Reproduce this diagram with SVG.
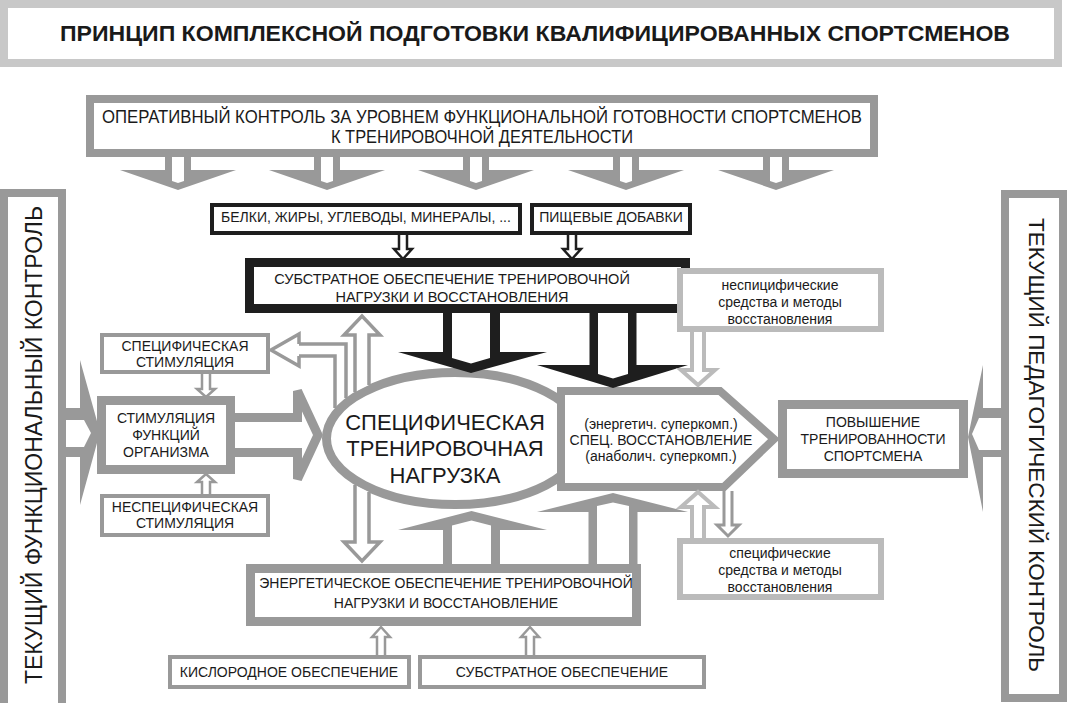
<svg xmlns="http://www.w3.org/2000/svg" width="1068" height="703" viewBox="0 0 1068 703">
<style>
text{font-family:"Liberation Sans",Arial,sans-serif;fill:#1a1a1a;text-anchor:middle}
.t14{font-size:14px}
.t15{font-size:14.5px}
.big{font-size:22px}
.box{fill:#fff}
.g{stroke:#999}
.k{stroke:#1e1e1e}
.lg{stroke:#bbb}
.arr{fill:#fff;stroke-linejoin:miter}
.fg{fill:#999}
.fk{fill:#1e1e1e}
.fw{fill:#fff}
</style>
<rect width="1068" height="703" fill="#fff"/>
<g id="title">
<rect x="4" y="4" width="1054" height="59" class="box" stroke="#c8c8c8" stroke-width="8"/>
<text x="535" y="41" font-size="22" font-weight="bold" textLength="950" lengthAdjust="spacingAndGlyphs">ПРИНЦИП КОМПЛЕКСНОЙ ПОДГОТОВКИ КВАЛИФИЦИРОВАННЫХ СПОРТСМЕНОВ</text>
</g>
<g id="ellipse">
<ellipse cx="455" cy="438.5" rx="128.5" ry="66" class="box g" stroke-width="9"/>
<text class="big" x="445" y="430">СПЕЦИФИЧЕСКАЯ</text>
<text class="big" x="445" y="456">ТРЕНИРОВОЧНАЯ</text>
<text class="big" x="445" y="483">НАГРУЗКА</text>
</g>
<g id="recovery">
<path d="M561,391 H720 L774,439 L724,487 H561 Z" class="box g" stroke-width="8"/>
<text class="t14" x="661" y="429" font-size="13.5">(энергетич. суперкомп.)</text>
<text class="t14" x="661" y="445">СПЕЦ. ВОССТАНОВЛЕНИЕ</text>
<text class="t14" x="661" y="461" font-size="13.5">(анаболич. суперкомп.)</text>
</g>
<g id="connectors">
<g class="fg">
<path d="M165,153 V170 H120 L178,190 L236,170 H191 V153 Z"/>
<path d="M314,153 V170 H269 L327,190 L385,170 H340 V153 Z"/>
<path d="M463,153 V170 H418 L476,190 L534,170 H489 V153 Z"/>
<path d="M613,153 V170 H568 L626,190 L684,170 H639 V153 Z"/>
<path d="M763,153 V170 H718 L776,190 L834,170 H789 V153 Z"/>
</g>
<g class="fw">
<path d="M172,153 V181 L178,183 L184,181 V153 Z"/>
<path d="M321,153 V181 L327,183 L333,181 V153 Z"/>
<path d="M470,153 V181 L476,183 L482,181 V153 Z"/>
<path d="M620,153 V181 L626,183 L632,181 V153 Z"/>
<path d="M770,153 V181 L776,183 L782,181 V153 Z"/>
</g>
<path d="M62,408 H80 V360 L100,432 L80,505 V457 H62 Z" class="fg"/>
<path d="M62,420 H84 L91,433 L84,447 H62 Z" class="fw"/>
<path d="M1006,408 H983 V365 L968,437 L983,512 V457 H1006 Z" class="fg"/>
<path d="M1006,418 H979 L972,434 L979,450 H1006 Z" class="fw"/>
<path d="M235,417.5 H297.5 V391 L318,435 L297.5,479 V452.5 H235" class="arr g" stroke-width="9"/>
<path d="M443,308 V352 H398 L471,373 L547,352 H500 V308 Z" class="fk"/>
<path d="M452,308 V358 L471,363.5 L490,358 V308 Z" class="fw"/>
<path d="M589.5,308 V365 H537 L613,388 L688,365 H636.5 V308 Z" class="fk"/>
<path d="M598,308 V374 L613,378.5 L628,374 V308 Z" class="fw"/>
<path d="M443,568 V530 H398 L471.5,511 L547,530 H500 V568 Z" class="fg"/>
<path d="M452,568 V525.5 L471.5,520.5 L491,525.5 V568 Z" class="fw"/>
<path d="M588.5,568 V512 H537 L613,493 L688,512 H637.5 V568 Z" class="fg"/>
<path d="M597,568 V506 L613,502.5 L629,506 V568 Z" class="fw"/>
<g class="arr g" stroke-width="3.5" fill="none">
<path d="M355,392 V335 H344 L362,316 L380,335 H369 V385" fill="#fff"/>
<path d="M355,485 V542 H344 L362,561 L380,542 H369 V492" fill="#fff"/>
<path d="M346,398 V344 H299" fill="none"/>
<path d="M335,408 V356 H299" fill="none"/>
<path d="M299,356 V366 L271,350 L299,334 V344" fill="#fff"/>
</g>
<g class="arr lg" stroke-width="4">
<path d="M692,331 V370 H681 L698,385 L715,370 H704 V331"/>
<path d="M692,540 V507 H681 L698,492 L715,507 H704 V540"/>
</g>
<path d="M724,491 V525 H717 L728,536 L739,525 H732 V491" class="arr g" stroke-width="3"/>
<g class="arr g" stroke-width="2.5">
<path d="M202,372 V389 H197 L206,397 L215,389 H210 V372"/>
<path d="M202,496 V482 H197 L206,474 L215,482 H210 V496"/>
<path d="M377,657 V637 H372 L381,627 L390,637 H385 V657"/>
<path d="M526,657 V637 H521 L530,627 L539,637 H534 V657"/>
</g>
<g class="arr k" stroke-width="2.5">
<path d="M399,233 V249 H394 L403,259 L412,249 H407 V233"/>
<path d="M568,233 V249 H563 L572,259 L581,249 H576 V233"/>
</g>
</g>
<g id="operative">
<rect x="90" y="99" width="784" height="54" class="box g" stroke-width="8"/>
<text x="482" y="123" font-size="17.5" textLength="760" lengthAdjust="spacingAndGlyphs">ОПЕРАТИВНЫЙ КОНТРОЛЬ ЗА УРОВНЕМ ФУНКЦИОНАЛЬНОЙ ГОТОВНОСТИ СПОРТСМЕНОВ</text>
<text x="482" y="143" font-size="17.5" textLength="302" lengthAdjust="spacingAndGlyphs">К ТРЕНИРОВОЧНОЙ ДЕЯТЕЛЬНОСТИ</text>
</g>
<g id="func-control">
<rect x="4" y="193" width="58" height="520" class="box g" stroke-width="8"/>
<text x="0" y="0" font-size="23" transform="translate(42,445) rotate(-90)">ТЕКУЩИЙ ФУНКЦИОНАЛЬНЫЙ КОНТРОЛЬ</text>
</g>
<g id="ped-control">
<rect x="1005" y="194" width="58" height="504" class="box g" stroke-width="8"/>
<text x="0" y="0" font-size="22" transform="translate(1029,445) rotate(90)" textLength="454" lengthAdjust="spacingAndGlyphs">ТЕКУЩИЙ ПЕДАГОГИЧЕСКИЙ КОНТРОЛЬ</text>
</g>
<g id="nutrients">
<rect x="212" y="205" width="308" height="28" class="box k" stroke-width="4"/>
<text class="t14" x="366" y="222">БЕЛКИ, ЖИРЫ, УГЛЕВОДЫ, МИНЕРАЛЫ, ...</text>
</g>
<g id="supplements">
<rect x="532" y="205" width="158" height="28" class="box k" stroke-width="4"/>
<text class="t14" x="611" y="222">ПИЩЕВЫЕ ДОБАВКИ</text>
</g>
<g id="substrate">
<rect x="249.5" y="262.5" width="436" height="46" class="box k" stroke-width="9"/>
<text class="t15" x="452" y="284">СУБСТРАТНОЕ ОБЕСПЕЧЕНИЕ ТРЕНИРОВОЧНОЙ</text>
<text class="t15" x="452" y="302">НАГРУЗКИ И ВОССТАНОВЛЕНИЯ</text>
</g>
<g id="nonspec-means">
<rect x="680" y="271" width="201" height="58" class="box lg" stroke-width="6"/>
<text class="t14" x="780" y="290">неспицифические</text>
<text class="t14" x="780" y="307">средства и методы</text>
<text class="t14" x="780" y="324">восстановления</text>
</g>
<g id="spec-stim">
<rect x="102" y="335" width="166" height="37" class="box g" stroke-width="4"/>
<text class="t14" x="185" y="351">СПЕЦИФИЧЕСКАЯ</text>
<text class="t14" x="185" y="367">СТИМУЛЯЦИЯ</text>
</g>
<g id="stim-func">
<rect x="101.5" y="400.5" width="129" height="69" class="box g" stroke-width="9"/>
<text class="t14" x="166" y="423">СТИМУЛЯЦИЯ</text>
<text class="t14" x="166" y="440">ФУНКЦИЙ</text>
<text class="t14" x="166" y="457">ОРГАНИЗМА</text>
</g>
<g id="nonspec-stim">
<rect x="102" y="496" width="166" height="39" class="box g" stroke-width="4"/>
<text class="t14" x="185" y="512">НЕСПЕЦИФИЧЕСКАЯ</text>
<text class="t14" x="185" y="528">СТИМУЛЯЦИЯ</text>
</g>
<g id="improvement">
<rect x="782.5" y="404.5" width="181" height="69" class="box g" stroke-width="9"/>
<text class="t14" x="873" y="427">ПОВЫШЕНИЕ</text>
<text class="t14" x="873" y="444">ТРЕНИРОВАННОСТИ</text>
<text class="t14" x="873" y="461">СПОРТСМЕНА</text>
</g>
<g id="spec-means">
<rect x="680" y="541" width="201" height="56" class="box lg" stroke-width="6"/>
<text class="t14" x="780" y="558">специфические</text>
<text class="t14" x="780" y="575">средства и методы</text>
<text class="t14" x="780" y="592">восстановления</text>
</g>
<g id="energy">
<rect x="250.5" y="568.5" width="386" height="53" class="box g" stroke-width="9"/>
<text class="t14" x="446" y="588">ЭНЕРГЕТИЧЕСКОЕ ОБЕСПЕЧЕНИЕ ТРЕНИРОВОЧНОЙ</text>
<text class="t14" x="446" y="608">НАГРУЗКИ И ВОССТАНОВЛЕНИЕ</text>
</g>
<g id="oxygen">
<rect x="170" y="657" width="239" height="30" class="box g" stroke-width="4"/>
<text class="t14" x="289" y="677">КИСЛОРОДНОЕ ОБЕСПЕЧЕНИЕ</text>
</g>
<g id="substrate-supply">
<rect x="420" y="657" width="284" height="30" class="box g" stroke-width="4"/>
<text class="t14" x="562" y="677">СУБСТРАТНОЕ ОБЕСПЕЧЕНИЕ</text>
</g>
</svg>
